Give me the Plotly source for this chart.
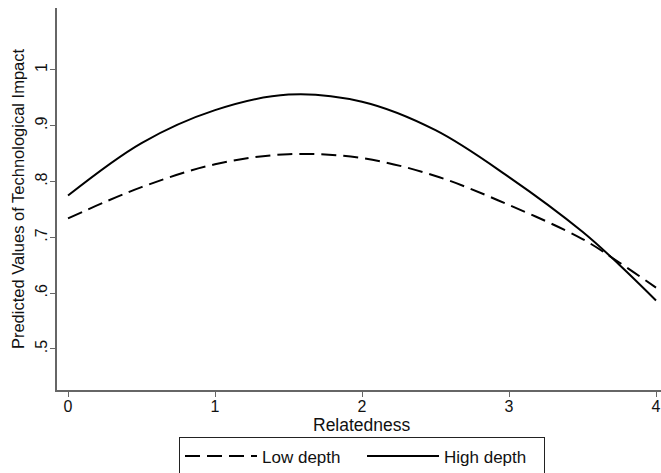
import plotly.graph_objects as go

relatedness = [0, 0.5, 1, 1.5, 2, 2.5, 3, 3.5, 3.75, 4]
low_depth = [0.734, 0.790, 0.831, 0.849, 0.842, 0.810, 0.758, 0.697, 0.655, 0.610]
high_depth = [0.775, 0.869, 0.928, 0.956, 0.943, 0.892, 0.808, 0.710, 0.651, 0.587]
y_ticks = [0.5, 0.6, 0.7, 0.8, 0.9, 1.0]
y_ticklabels = [".5", ".6", ".7", ".8", ".9", "1"]
x_ticks = [0, 1, 2, 3, 4]
x_title = "Relatedness"
y_title = "Predicted Values of Technological Impact"

fig = go.Figure()
fig.add_trace(go.Scatter(x=relatedness, y=low_depth, mode="lines", name="Low depth",
                         line=dict(color="black", width=2, dash="15px,7px", shape="spline")))
fig.add_trace(go.Scatter(x=relatedness, y=high_depth, mode="lines", name="High depth",
                         line=dict(color="black", width=2, shape="spline")))

fam = "Liberation Sans, Arial, sans-serif"
txt = "#111"
axc = "#666"
fig.update_layout(
    width=661, height=473,
    margin=dict(l=57, r=0, t=8, b=83, autoexpand=False),
    paper_bgcolor="white", plot_bgcolor="white",
    font=dict(family=fam, size=15, color=txt),
    showlegend=True,
    legend=dict(orientation="h", x=0.505, xanchor="center", y=-0.124, yanchor="top",
                bordercolor="#222", borderwidth=1, bgcolor="white",
                font=dict(family=fam, size=17, color=txt),
                itemwidth=72, entrywidth=95, entrywidthmode="pixels", tracegroupgap=0),
    xaxis=dict(range=[-0.075, 4.034], tickvals=x_ticks, ticks="outside", ticklen=5,
               tickcolor=axc, showline=True, linecolor=axc, linewidth=1.5,
               showgrid=False, zeroline=False, automargin=False,
               ticklabeloverflow="allow", ticklabelstandoff=-4,
               tickfont=dict(family=fam, size=16, color=txt)),
    yaxis=dict(range=[0.4265, 1.111], tickvals=y_ticks, ticktext=y_ticklabels,
               tickangle=-90, ticks="outside", ticklen=5, tickcolor=axc,
               showline=True, linecolor=axc, linewidth=1.5,
               showgrid=False, zeroline=False, automargin=False,
               ticklabelstandoff=-3,
               tickfont=dict(family=fam, size=16, color=txt),
               title=dict(text=y_title, standoff=4,
                          font=dict(family=fam, size=16.5, color=txt))),
    annotations=[dict(text=x_title, xref="paper", yref="paper", x=0.505, y=-35 / 382,
                      xanchor="center", yanchor="middle", showarrow=False,
                      font=dict(family=fam, size=17.5, color=txt))],
)
fig.write_html("out.html", config={"displayModeBar": False},
               post_script="document.body.style.margin='0';document.body.style.overflow='hidden';")
